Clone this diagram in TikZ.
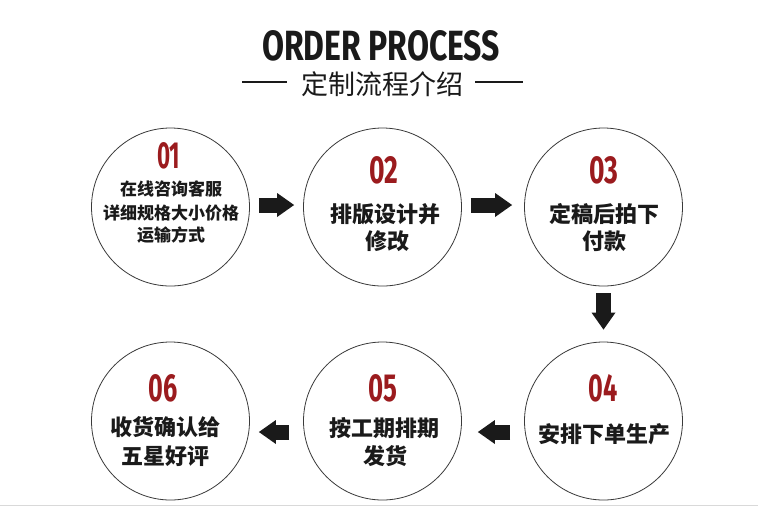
\documentclass[tikz,border=0pt]{standalone}
\usepackage{fontspec}
\usepackage{graphicx}
\usetikzlibrary{arrows.meta}
\setmainfont{Fira Sans}
\newfontfamily\cjk{Noto Sans CJK SC}
\definecolor{numred}{HTML}{9B1B1E}
\definecolor{ink}{HTML}{1A1A1A}
\definecolor{ringgray}{HTML}{3A3A3A}
\newcommand{\stepnum}[1]{\resizebox{29pt}{27pt}{\bfseries #1}}
\begin{document}
\begin{tikzpicture}[x=1pt,y=-1pt,
  stepcircle/.style={circle, draw=ringgray, line width=0.8pt, minimum size=158pt, inner sep=0pt},
  numlabel/.style={text=numred, inner sep=0pt, anchor=center},
  bigline/.style={inner sep=0pt, anchor=base, text=ink, font=\cjk\bfseries\fontsize{22pt}{26pt}\selectfont},
  smallline/.style={inner sep=0pt, anchor=base, text=ink, font=\cjk\bfseries\fontsize{17pt}{20pt}\selectfont},
  fatarrow/.style={ink, line width=15pt, -{Triangle[length=17pt,width=24pt,line width=0pt]}}
]
\useasboundingbox (0,0) rectangle (758,507);
\fill[white] (0,0) rectangle (758,507);

% title
\node[inner sep=0pt, text=ink] (title) at (381,46) {\resizebox{238pt}{30pt}{\bfseries ORDER PROCESS}};
\node[inner sep=0pt, anchor=base, text=ink, font=\cjk\fontsize{27pt}{30pt}\selectfont] (sub) at (382,94.3) {定制流程介绍};
\draw[ink, line width=2pt] (242,82) -- (287,82);
\draw[ink, line width=2pt] (475,82) -- (523,82);

% circles
\node[stepcircle] (c1) at (170.5,207) {};
\node[stepcircle] (c2) at (382.5,207) {};
\node[stepcircle] (c3) at (603.5,207) {};
\node[stepcircle] (c4) at (603.5,421) {};
\node[stepcircle] (c5) at (382.5,421) {};
\node[stepcircle] (c6) at (170.5,421) {};

% circle 1
\node[numlabel] (n1) at (168.5,156) {\resizebox{23pt}{26pt}{\bfseries 01}};
\node[smallline] (t1a) at (171,195.5) {在线咨询客服};
\node[smallline] (t1b) at (171,219.5) {详细规格大小价格};
\node[smallline] (t1c) at (171,241.5) {运输方式};

% circle 2
\node[numlabel] (n2) at (383.5,170.5) {\stepnum{02}};
\node[bigline] (t2a) at (385.5,222.4) {排版设计并};
\node[bigline] (t2b) at (387,249.4) {修改};

% circle 3
\node[numlabel] (n3) at (603.5,170.5) {\stepnum{03}};
\node[bigline] (t3a) at (604,222.4) {定稿后拍下};
\node[bigline] (t3b) at (604,249.4) {付款};

% circle 4
\node[numlabel] (n4) at (603,388.5) {\stepnum{04}};
\node[bigline] (t4a) at (604.5,442.4) {安排下单生产};

% circle 5
\node[numlabel] (n5) at (383,388.5) {\stepnum{05}};
\node[bigline] (t5a) at (384,436.4) {按工期排期};
\node[bigline] (t5b) at (385,464.8) {发货};

% circle 6
\node[numlabel] (n6) at (163,388) {\stepnum{06}};
\node[bigline] (t6a) at (165.5,435.9) {收货确认给};
\node[bigline] (t6b) at (165,464.4) {五星好评};

% arrows
\draw[fatarrow] ([xshift=9pt,yshift=2pt]c1.east) -- ([xshift=-9pt,yshift=2pt]c2.west);
\draw[fatarrow] ([xshift=9pt,yshift=2pt]c2.east) -- ([xshift=-12pt,yshift=2pt]c3.west);
\draw[fatarrow] ([yshift=-7pt]c3.south) -- ([yshift=12pt]c4.north);
\draw[fatarrow] ([xshift=-14pt,yshift=-11pt]c4.west) -- ([xshift=16pt,yshift=-11pt]c5.east);
\draw[fatarrow] ([xshift=-14pt,yshift=-11pt]c5.west) -- ([xshift=9pt,yshift=-11pt]c6.east);

% bottom rule
\draw[black!15, line width=1pt] (0,505) -- (758,505);
\end{tikzpicture}
\end{document}
